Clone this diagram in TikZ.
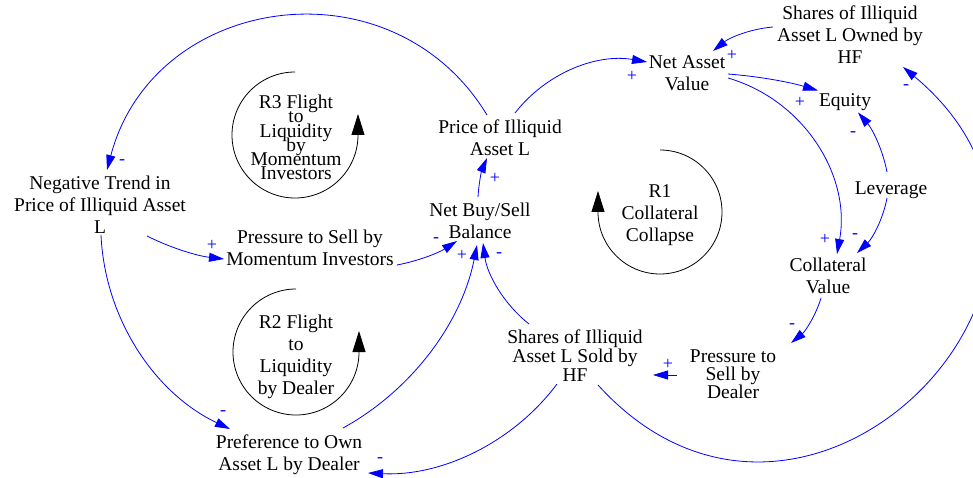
\documentclass[tikz,border=0pt]{standalone}
\usepackage{fontspec}
\setmainfont{Liberation Serif}
\usetikzlibrary{arrows.meta,calc}
\begin{document}
\begin{tikzpicture}[x=1pt,y=-1pt,
  var/.style={font={\fontsize{19.5}{22}\selectfont\lineskiplimit=-30pt}, align=center, inner sep=0pt},
  looplab/.style={font={\fontsize{19.5}{22}\selectfont\lineskiplimit=-30pt}, align=center, inner sep=0pt},
  link/.style={blue, line width=0.8pt, -{Triangle[length=15pt,width=9pt]}},
  loopline/.style={black, line width=0.8pt, -{Triangle[length=21pt,width=13pt]}},
  sgn/.style={blue, font={\fontsize{18}{18}\selectfont}, inner sep=0pt}]
\path[fill=white, use as bounding box] (0,0) rectangle (973,478);
\clip (0,0) rectangle (973,478);

% variables
\node[var] (neg) at (100,205) {Negative Trend in\\Price of Illiquid Asset\\L};
\node[var] (price) at (500,138) {Price of Illiquid\\Asset L};
\node[var] (nav) at (687,73) {Net Asset\\Value};
\node[var] (owned) at (850,35) {Shares of Illiquid\\Asset L Owned by\\HF};
\node[var] (equity) at (845,102.5) {Equity};
\node[var] (lev) at (891,190) {Leverage};
\node[var] (coll) at (828,276) {Collateral\\Value};
\node[var, font={\fontsize{19.5}{18}\selectfont\lineskiplimit=-30pt}] (pdealer) at (733,374) {Pressure to\\Sell by\\Dealer};
\node[var, font={\fontsize{19.5}{19}\selectfont\lineskiplimit=-30pt}] (sold) at (575,356) {Shares of Illiquid\\Asset L Sold by\\HF};
\node[var] (pref) at (289,455) {Preference to Own\\Asset L by Dealer};
\node[var] (pmom) at (310,248) {Pressure to Sell by\\Momentum Investors};
\node[var] (netbuy) at (480,221) {Net Buy/Sell\\Balance};

% loop labels
\node[looplab, font={\fontsize{19.5}{14.2}\selectfont\lineskiplimit=-30pt}] (r3) at (296,137.5) {R3 Flight\\to\\Liquidity\\by\\Momentum\\Investors};
\node[looplab] (r2) at (296,357) {R2 Flight\\to\\Liquidity\\by Dealer};
\node[looplab] (r1) at (660,215) {R1\\Collateral\\Collapse};

% loop arrows
\coordinate (c3) at (295,135);
\coordinate (c2) at (296,352);
\coordinate (c1) at (660,212);
\draw[loopline] ($(c3)+(0,-63)$) arc[start angle=-90, end angle=-360, radius=63] -- ++(0,-21);
\draw[loopline] ($(c2)+(0,-63)$) arc[start angle=-90, end angle=-360, radius=63] -- ++(0,-21);
\draw[loopline] ($(c1)+(0,-62)$) arc[start angle=-90, end angle=180, radius=62] -- ++(0,-21);

% causal links
\draw[link] ($(price)+(-13,-23)$) to[bend right=67, looseness=1.22] ($(neg)+(7,-35)$);
\draw[link] ($(price)+(15,-25)$) to[bend left=31, looseness=0.92] ($(nav)+(-40,-11)$);
\draw[link] ($(netbuy)+(-2,-24)$) to[bend left=10, looseness=0.86] ($(price)+(-13,20)$);
\draw[link] ($(neg)+(47,31)$) to[bend right=10, looseness=0.86] ($(pmom)+(-86,11)$);
\draw[link] ($(pmom)+(87,17)$) to[bend right=11, looseness=0.86] ($(netbuy)+(-23,20)$);
\draw[link] ($(neg)+(1,30)$) to[bend right=31, looseness=0.92] ($(pref)+(-59,-26)$);
\draw[link] ($(pref)+(54,-27)$) to[bend right=25, looseness=0.89] ($(netbuy)+(-3,24)$);
\draw[link] ($(sold)+(-46,-32)$) to[bend left=22, looseness=0.88] ($(netbuy)+(3,22)$);
\draw[link] ($(sold)+(-18,28)$) to[bend left=28, looseness=0.90] ($(pref)+(79,18)$);
\draw[link] ($(sold)+(23,29)$) to[bend right=94, looseness=1.82] ($(owned)+(53,32)$);
\draw[link] ($(nav)+(41,1)$) to[bend left=6, looseness=0.85] ($(equity)+(-27,-12)$);
\draw[link] ($(nav)+(41,5)$) to[bend left=42, looseness=0.98] ($(coll)+(9,-22)$);
\draw[link] ($(lev)+(-4,-18)$) to[bend right=15, looseness=0.87] ($(equity)+(13,10)$);
\draw[link] ($(lev)+(-4,8)$) to[bend left=18, looseness=0.87] ($(coll)+(29,-23)$);
\draw[link] ($(coll)+(-7,22)$) to[bend left=17, looseness=0.87] ($(pdealer)+(58,-31)$);
\draw[link] ($(pdealer)+(-56,1)$) -- ($(sold)+(78,19)$);
\draw[link] ($(owned)+(-77,-8)$) to[bend right=17, looseness=0.87] ($(nav)+(26,-22)$);

% polarity signs
\node[sgn] (s1) at (122,162) {-};
\node[sgn] (s2) at (632,76) {+};
\node[sgn] (s3) at (495,178) {+};
\node[sgn] (s4) at (212,245) {+};
\node[sgn] (s5) at (436,240) {-};
\node[sgn] (s6) at (223,413) {-};
\node[sgn] (s7) at (462,255) {+};
\node[sgn] (s8) at (499,255) {-};
\node[sgn] (s9) at (380,460) {-};
\node[sgn] (s10) at (906,87) {-};
\node[sgn] (s11) at (800,102) {+};
\node[sgn] (s12) at (825,239) {+};
\node[sgn] (s13) at (853,134) {-};
\node[sgn] (s14) at (855,236) {-};
\node[sgn] (s15) at (792,326) {-};
\node[sgn] (s16) at (668,364) {+};
\node[sgn] (s17) at (732,55) {+};
\end{tikzpicture}
\end{document}
